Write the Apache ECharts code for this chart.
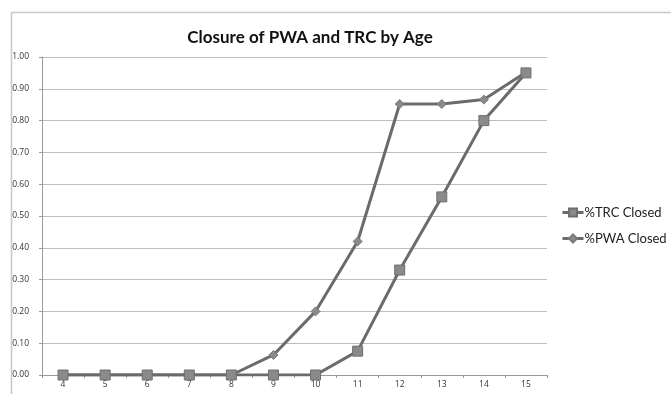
<!DOCTYPE html>
<html>
<head>
<meta charset="utf-8">
<script src="https://cdn.jsdelivr.net/npm/echarts@6/dist/echarts.min.js"></script>
<style>
html,body{margin:0;padding:0;background:#fff;}
#chart{width:671px;height:394px;}
</style>
</head>
<body>
<div id="chart"></div>
<script>
// Age categories (years)
const ages = ['4','5','6','7','8','9','10','11','12','13','14','15'];
// Share of cases closed at each age
const trcClosed = [0, 0, 0, 0, 0, 0, 0, 0.075, 0.33, 0.56, 0.80, 0.95];
const pwaClosed = [0, 0, 0, 0, 0, 0.063, 0.20, 0.42, 0.852, 0.852, 0.866, 0.952];
const yTicks = [0, 0.1, 0.2, 0.3, 0.4, 0.5, 0.6, 0.7, 0.8, 0.9, 1.0];

const lineColor = '#6b6b6b';
const markerFill = '#8a8a8a';

const chart = echarts.init(document.getElementById('chart'));
chart.setOption({
  animation: false,
  backgroundColor: '#fff',
  graphic: [{
    type: 'rect',
    shape: { x: 11.5, y: 12.5, width: 700, height: 420 },
    style: { fill: 'none', stroke: '#c8c8c8', lineWidth: 1.5 },
    z: -1
  }],
  title: {
    text: 'Closure of PWA and TRC by Age',
    left: 305, top: 24, textAlign: 'center',
    textStyle: { fontFamily: 'Lato', fontWeight: 'bold', fontSize: 17, color: '#111' }
  },
  legend: {
    orient: 'vertical',
    left: 561, top: 206,
    padding: 0,
    itemWidth: 21, itemHeight: 10, itemGap: 13,
    lineStyle: { width: 3, color: lineColor },
    textStyle: { fontFamily: 'Lato', fontSize: 13, color: '#222', padding: [0, 0, 0, -4] },
    data: ['%TRC Closed', '%PWA Closed']
  },
  grid: { left: 42, right: 124, top: 57, bottom: 19, containLabel: false },
  xAxis: {
    type: 'category',
    data: ages,
    boundaryGap: true,
    axisLine: { lineStyle: { color: '#999', width: 1 } },
    axisTick: { show: true, length: 3, lineStyle: { color: '#999' } },
    axisLabel: { fontFamily: 'Open Sans', fontSize: 8.5, color: '#333', margin: 5 }
  },
  yAxis: {
    type: 'value',
    min: 0, max: 1, interval: 0.1,
    axisLine: { show: true, lineStyle: { color: '#999', width: 1 } },
    axisTick: { show: true, length: 3, lineStyle: { color: '#999' } },
    splitLine: { lineStyle: { color: '#bdbdbd', width: 1.2 } },
    axisLabel: {
      fontFamily: 'Open Sans', fontSize: 8.5, color: '#333', margin: 13,
      formatter: v => {
        const t = yTicks.find(x => Math.abs(x - v) < 1e-9);
        return (t !== undefined ? t : v).toFixed(2);
      }
    }
  },
  series: [
    {
      name: '%TRC Closed',
      type: 'line',
      data: trcClosed,
      symbol: 'rect',
      symbolSize: 10,
      lineStyle: { color: lineColor, width: 3 },
      itemStyle: { color: markerFill, borderColor: '#6e6e6e', borderWidth: 1 },
      z: 3
    },
    {
      name: '%PWA Closed',
      type: 'line',
      data: pwaClosed,
      symbol: 'diamond',
      symbolSize: 9,
      lineStyle: { color: lineColor, width: 3 },
      itemStyle: { color: markerFill, borderColor: '#7a7a7a', borderWidth: 1 },
      z: 2
    }
  ]
});
</script>
</body>
</html>
